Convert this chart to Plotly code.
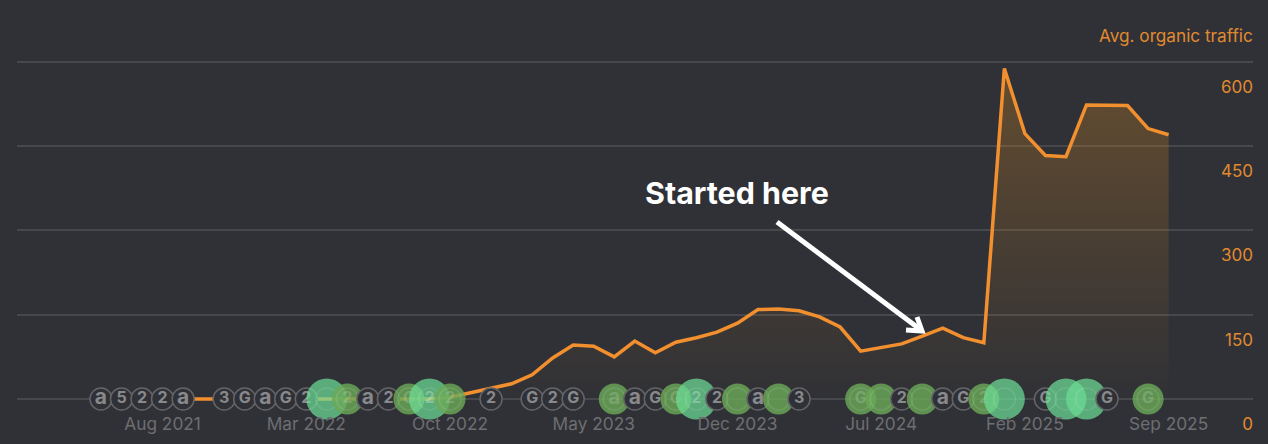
import pandas as pd
import plotly.graph_objects as go

BG = "#303136"
ORANGE = "#f28f2f"
AXIS_ORANGE = "#e08a30"
GREY = "#6d6e72"
W, H = 1268, 444
ML, MR, MT, MB = 17, 15, 60, 43

months = [d.strftime("%b %Y") for d in pd.date_range("2021-05-01", "2025-09-01", freq="MS")]
traffic = [0] * 17 + [
    3, 11, 18,
    27, 43, 73, 96, 94, 75, 103, 82, 101, 109, 119, 135,
    159, 160, 157, 146, 128, 85, 91, 98, 112, 126, 109, 100,
    588, 472, 433, 431, 523, 523, 522, 481, 470,
]
x_ticks = ["Aug 2021", "Mar 2022", "Oct 2022", "May 2023", "Dec 2023", "Jul 2024", "Feb 2025", "Sep 2025"]
y_ticks = [0, 150, 300, 450, 600]

bubble_months = ["May 2021", "Jun 2021", "Jul 2021", "Aug 2021", "Sep 2021", "Nov 2021", "Dec 2021", "Jan 2022",
                 "Feb 2022", "Mar 2022", "Apr 2022", "May 2022", "Jun 2022", "Jul 2022", "Aug 2022", "Sep 2022",
                 "Oct 2022", "Dec 2022", "Feb 2023", "Mar 2023", "Apr 2023", "Jun 2023", "Jul 2023", "Aug 2023",
                 "Sep 2023", "Oct 2023", "Nov 2023", "Dec 2023", "Jan 2024", "Feb 2024", "Mar 2024", "Jun 2024",
                 "Jul 2024", "Aug 2024", "Sep 2024", "Oct 2024", "Nov 2024", "Dec 2024", "Jan 2025", "Mar 2025",
                 "Apr 2025", "May 2025", "Jun 2025", "Aug 2025"]
bubble_labels = ["a", "5", "2", "2", "a", "3", "G", "a", "G", "2", "", "2", "a", "2", "G", "2",
                 "2", "2", "G", "2", "G", "a", "a", "G", "G", "2", "2", "", "a", "", "3", "G",
                 "", "2", "", "a", "G", "2", "", "G", "", "", "G", "G"]
bubble_kinds = ["s", "s", "s", "s", "s", "s", "s", "s", "s", "s", "l", "m", "s", "s", "m", "l",
                "m", "s", "s", "s", "s", "m", "s", "s", "m", "l", "s", "m", "s", "m", "s", "m",
                "m", "s", "m", "s", "s", "m", "l", "s", "l", "l", "s", "m"]

STYLES = {
    "s": dict(size=22, fill=BG, line="#636468", text="#88898c"),
    "m": dict(size=31, fill="rgba(106,168,88,0.82)", line="rgba(255,255,255,0.1)", text="rgba(255,255,255,0.18)"),
    "l": dict(size=41, fill="rgba(108,220,150,0.72)", line="rgba(255,255,255,0.1)", text="rgba(255,255,255,0.25)"),
}

fig = go.Figure()
fig.add_trace(go.Scatter(
    x=months, y=traffic, mode="lines", cliponaxis=False, hoverinfo="skip",
    line=dict(color=ORANGE, width=3.5),
    fill="tozeroy",
    fillgradient=dict(type="vertical", start=0, stop=600,
                      colorscale=[[0, "rgba(240,150,30,0)"], [1, "rgba(240,150,30,0.28)"]]),
))

for month, label, kind in zip(bubble_months, bubble_labels, bubble_kinds):
    st = STYLES[kind]
    fig.add_trace(go.Scatter(
        x=[month], y=[0], mode="markers", cliponaxis=False, hoverinfo="skip",
        marker=dict(size=st["size"], color=st["fill"],
                    line=dict(color=st["line"], width=1.5) if kind == "s" else dict(width=0)),
    ))
    if kind != "s":
        fig.add_trace(go.Scatter(
            x=[month], y=[0], mode="markers", cliponaxis=False, hoverinfo="skip",
            marker=dict(size=22, color="rgba(0,0,0,0)", line=dict(color=st["line"], width=1.5)),
        ))
    fig.add_trace(go.Scatter(
        x=[month], y=[0], mode="text", cliponaxis=False, hoverinfo="skip",
        text=[label], textposition="middle center",
        textfont=dict(family="Inter", size=21 if label == "a" else 16, color=st["text"], weight=700),
    ))

def px(x, y):
    return (x - ML) / (W - ML - MR), (H - MB - y) / (H - MT - MB)

def path(points):
    return "M " + " L ".join(f"{a},{b}" for a, b in (px(*p) for p in points))

for pts in ([(777, 222), (921, 330)], [(906, 330), (922, 331), (917, 317)]):
    fig.add_shape(type="path", xref="paper", yref="paper", path=path(pts),
                  line=dict(color="white", width=5))

fig.add_annotation(xref="paper", yref="paper", x=1, y=px(0, 35)[1], xanchor="right", yanchor="middle",
                   xshift=2, text="Avg. organic traffic", showarrow=False,
                   font=dict(family="Inter", size=17.2, color=AXIS_ORANGE))
fig.add_annotation(xref="paper", yref="paper", x=px(736.5, 0)[0], y=px(0, 193)[1], xanchor="center", yanchor="middle",
                   text="<b>Started here</b>", showarrow=False,
                   font=dict(family="Inter", size=30.4, color="white"))

fig.update_layout(
    width=W, height=H, showlegend=False,
    paper_bgcolor=BG, plot_bgcolor=BG,
    margin=dict(l=ML, r=MR, t=MT, b=MB, autoexpand=False),
    font=dict(family="Inter"),
    xaxis=dict(type="category", categoryorder="array", categoryarray=months, automargin=False,
               range=[-4.09, 56.11], tickmode="array", tickvals=x_ticks, ticktext=x_ticks,
               showgrid=False, zeroline=False, showline=False, ticks="",
               tickfont=dict(family="Inter", size=17.3, color=GREY), ticklabelstandoff=11),
    yaxis=dict(range=[-3.6, 603], tickmode="array", tickvals=y_ticks, side="right", automargin=False,
               ticklabelposition="inside", ticklabeloverflow="allow", ticklabelshift=25,
               ticklabelstandoff=-3,
               gridcolor="#47484c", gridwidth=2, zeroline=False,
               showline=False, ticks="",
               tickfont=dict(family="Inter", size=17, color=AXIS_ORANGE)),
)

fig.write_html("out.html", config={"displayModeBar": False},
               post_script="document.body.style.margin='0';")
